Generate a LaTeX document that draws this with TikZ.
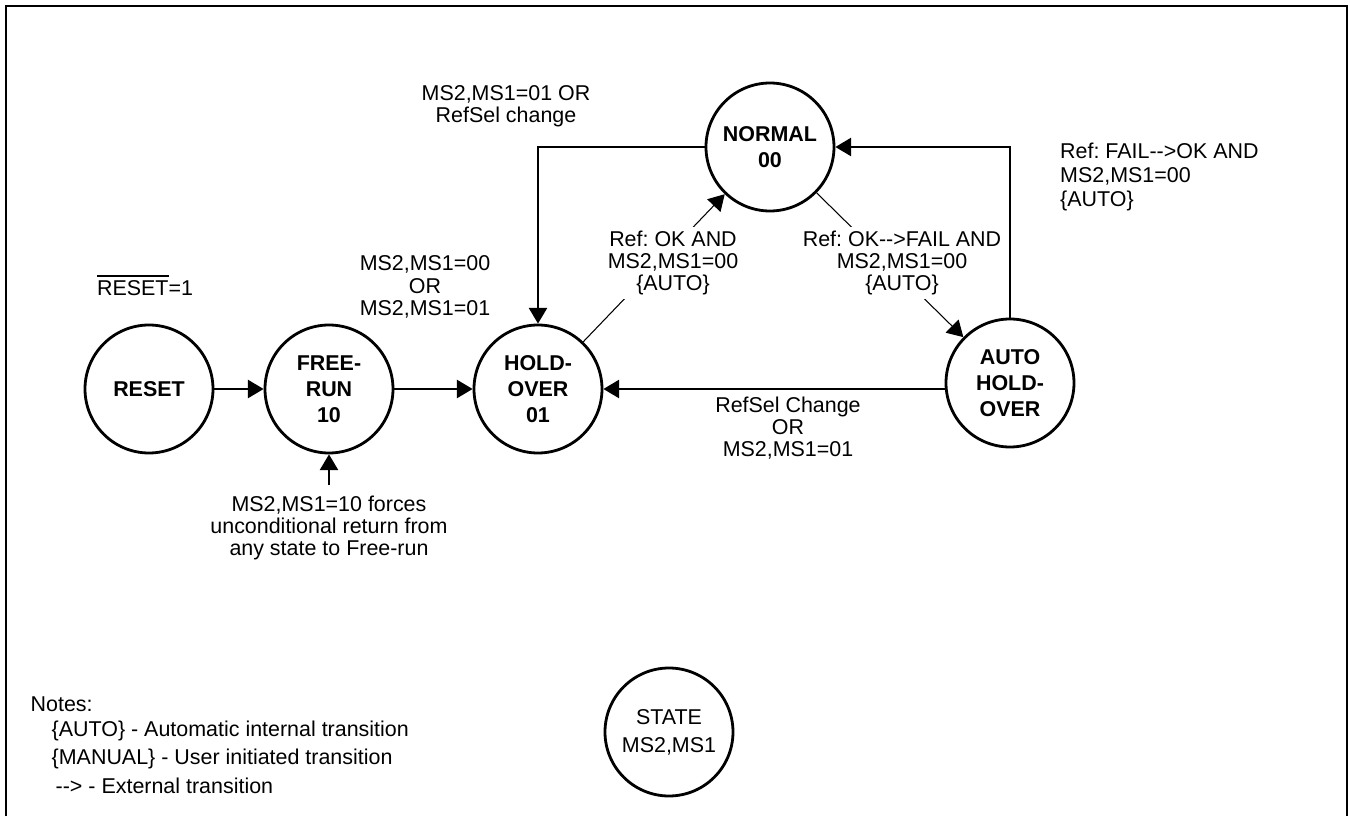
\documentclass[tikz,border=0pt]{standalone}
\usepackage{fontspec}
\setmainfont{Liberation Sans}
\usetikzlibrary{arrows.meta}
\frenchspacing

\tikzstyle{state}=[circle,draw,thick,minimum size=1.28cm,inner sep=0pt,align=center,font=\fontsize{6.1}{7.4}\selectfont\bfseries]
\tikzstyle{key state}=[state,font=\fontsize{6.1}{7.9}\selectfont]
\tikzstyle{trans} = [draw,semithick,-{Triangle[length=4.5pt,width=5.2pt]}]
\tikzstyle{cond edge} = [draw,line width=0.3pt,-{Triangle[length=4.5pt,width=5.2pt]}]
\tikzstyle{cond}=[align=center,inner sep=1pt]
\tikzstyle{note}=[anchor=west,inner sep=0pt]

\newcommand{\ext}{-\kern0pt-\kern0pt>}

\begin{document}
\begin{tikzpicture}[font=\fontsize{6.1}{6.3}\selectfont]
	\useasboundingbox (0,0) rectangle (13.5,8.16);
	\draw[line width=0.7pt] (0.06,0) -- (0.06,8.10) -- (13.47,8.10) -- (13.47,0);
			\node[state] (reset) at (1.49,4.27) {RESET};
			\node[state] (freerun) at (3.29,4.27) {FREE-\\RUN\\10};
			\node[state] (hold) at (5.38,4.27) {HOLD-\\OVER\\01};
			\node[state] (normal) at (7.70,6.69) {NORMAL\\00};
			\node[state] (auto) at (10.10,4.33) {AUTO\\HOLD-\\OVER};
			\node[key state] (key) at (6.69,0.84) {STATE\\MS2,MS1};
			\coordinate (forcein) at (3.29,3.31);
	   		 % Connect states with transitions
	   		 \foreach \source/ \dest in {reset/freerun, freerun/hold, forcein/freerun}
			 \path[trans] (\source) to (\dest);
			\path[trans] (normal.west) -| (hold.north);
			\path[trans] (auto.north) |- (normal.east);
			\path[trans] (hold.east -| auto.west) -- (hold.east);
			\path[cond edge] (hold) -- (normal);
			\path[cond edge] (normal) -- (auto);
			% Conditions
			\node[cond] (resetlbl) at (1.45,5.31) {$\overline{\mbox{RESET}}$=1};
			\node[cond] (freelbl) at (4.25,5.29) {MS2,MS1=00\\OR\\MS2,MS1=01};
			\node[cond] (normlbl) at (5.06,7.10) {MS2,MS1=01 OR\\RefSel change};
			\node[cond,fill=white] (oklbl) at (6.73,5.53) {Ref: OK AND\\MS2,MS1=00\\\{AUTO\}};
			\node[cond,fill=white] (faillbl) at (9.02,5.53) {Ref: OK\ext FAIL AND\\MS2,MS1=00\\\{AUTO\}};
			\node[cond,anchor=west,align=left,font=\fontsize{6.1}{6.9}\selectfont] (backlbl) at (10.56,6.39) {Ref: FAIL\ext OK AND\\MS2,MS1=00\\\{AUTO\}};
			\node[cond] (sellbl) at (7.88,3.88) {RefSel Change\\OR\\MS2,MS1=01};
			\node[cond] (forcelbl) at (3.29,2.88) {MS2,MS1=10 forces\\unconditional return from\\any state to Free-run};
			% Notes
			\node[note] (notes) at (0.30,1.12) {Notes:};
			\node[note] (noteauto) at (0.51,0.85) {\{AUTO\} - Automatic internal transition};
			\node[note] (noteman) at (0.51,0.57) {\{MANUAL\} - User initiated transition};
			\node[note] (noteext) at (0.55,0.30) {\ext{} - External transition};
\end{tikzpicture}
\end{document}
